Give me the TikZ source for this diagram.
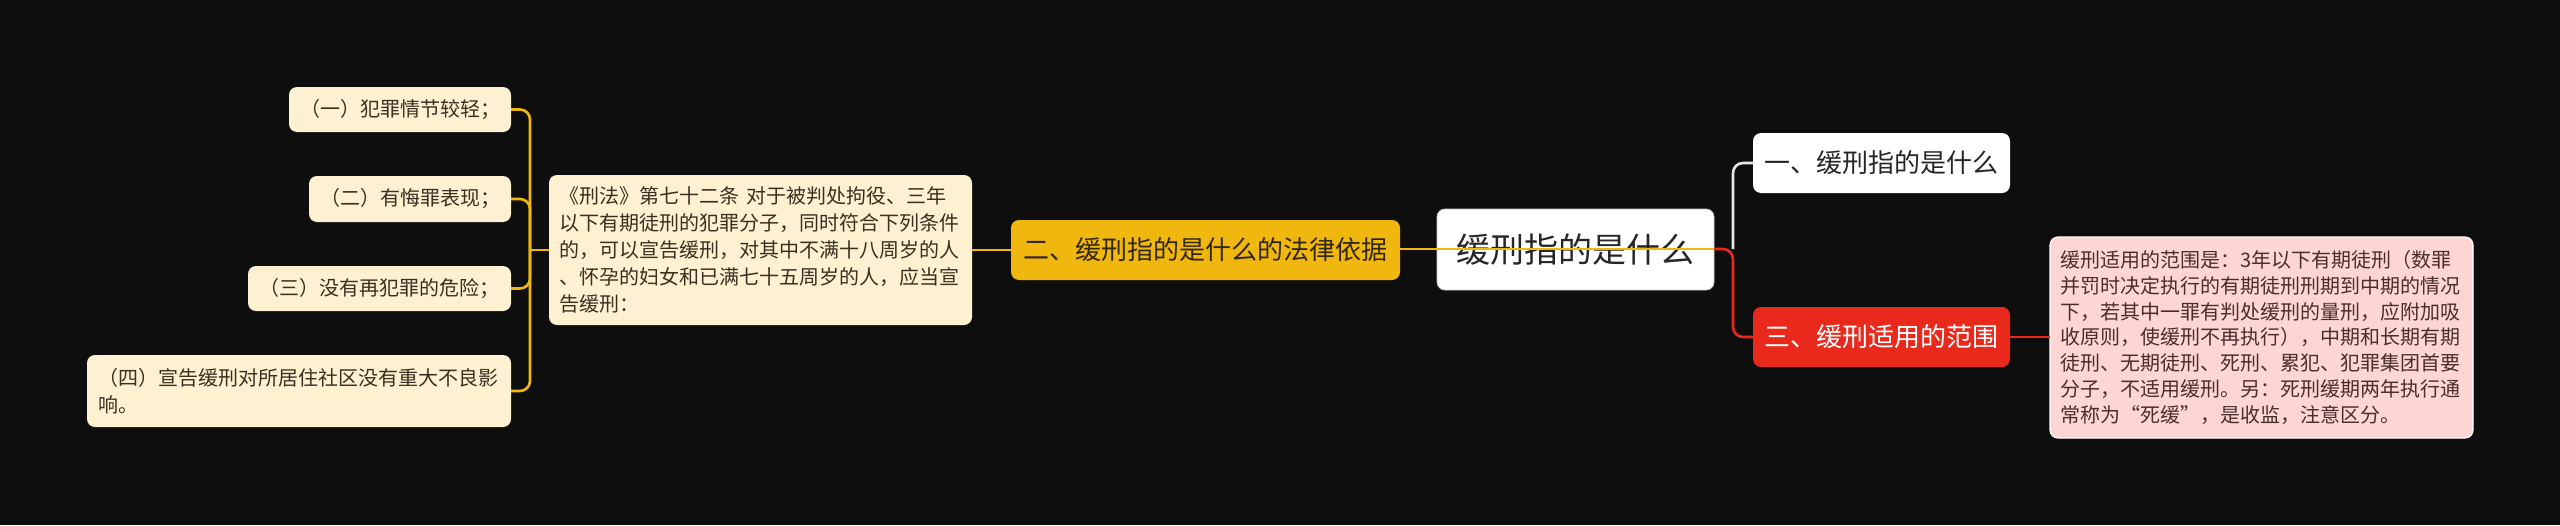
\documentclass[tikz,border=0pt]{standalone}
\usepackage{fontspec}
\newfontfamily\cjk{Noto Sans CJK SC}
\definecolor{bgc}{HTML}{0E0E0E}
\definecolor{cream}{HTML}{FDF1D2}
\definecolor{creamtxt}{HTML}{3A3020}
\definecolor{gold}{HTML}{F0B70E}
\definecolor{goldtxt}{HTML}{33270A}
\definecolor{redc}{HTML}{E8291B}
\definecolor{pinkc}{HTML}{FDD6D3}
\definecolor{pinktxt}{HTML}{4A2E2C}
\definecolor{graylink}{HTML}{E6E6E6}
\definecolor{roottxt}{HTML}{262626}
\tikzset{
  box/.style={rounded corners=8pt, inner sep=0pt, outer sep=0pt, font=\cjk, align=center},
  smallbox/.style={box, fill=cream, text=creamtxt, font=\cjk\fontsize{20}{27}\selectfont},
  midbox/.style={box, font=\cjk\fontsize{26}{30}\selectfont},
  link/.style={line width=2.6pt, rounded corners=10pt},
}
\begin{document}
\begin{tikzpicture}[x=1pt,y=-1pt]
\fill[bgc] (0,0) rectangle (2560,525);
\useasboundingbox (0,0) rectangle (2560,525);

% root and right side
\node[box, fill=white, draw=gray!40, line width=0.8pt, text=roottxt, font=\cjk\fontsize{34}{40}\selectfont,
      minimum width=277pt, minimum height=81pt] (root) at (1575.5,249.5) {缓刑指的是什么};
\node[midbox, fill=white, text=roottxt, minimum width=257pt, minimum height=60pt] (n1) at (1881.5,163) {一、缓刑指的是什么};
\node[midbox, fill=redc, text=white, minimum width=257pt, minimum height=60pt] (n3) at (1881.5,337) {三、缓刑适用的范围};
\node[box, fill=pinkc, draw=white, line width=1.2pt, text=pinktxt, font=\cjk\fontsize{20}{25.8}\selectfont,
      minimum width=423pt, minimum height=201pt, text width=402pt, align=left] (pink) at (2261.5,337.5)
  {缓刑适用的范围是：3年以下有期徒刑（数罪\\并罚时决定执行的有期徒刑刑期到中期的情况\\下，若其中一罪有判处缓刑的量刑，应附加吸\\收原则，使缓刑不再执行），中期和长期有期\\徒刑、无期徒刑、死刑、累犯、犯罪集团首要\\分子，不适用缓刑。另：死刑缓期两年执行通\\常称为“死缓”，是收监，注意区分。};

% left side
\node[midbox, fill=gold, text=goldtxt, minimum width=389pt, minimum height=60pt] (n2) at (1205.5,250) {二、缓刑指的是什么的法律依据};
\node[smallbox, minimum width=423pt, minimum height=150pt, text width=402pt, align=left] (law) at (760.5,250)
  {《刑法》第七十二条 对于被判处拘役、三年\\以下有期徒刑的犯罪分子，同时符合下列条件\\的，可以宣告缓刑，对其中不满十八周岁的人\\、怀孕的妇女和已满七十五周岁的人，应当宣\\告缓刑：};
\node[smallbox, minimum width=222pt, minimum height=45pt] (c1) at (400,109.5) {（一）犯罪情节较轻；};
\node[smallbox, minimum width=202pt, minimum height=46pt] (c2) at (410,199) {（二）有悔罪表现；};
\node[smallbox, minimum width=263pt, minimum height=45pt] (c3) at (379.5,288.5) {（三）没有再犯罪的危险；};
\node[smallbox, minimum width=424pt, minimum height=72pt, text width=402pt, align=left] (c4) at (299,391)
  {（四）宣告缓刑对所居住社区没有重大不良影\\响。};

% connectors
\coordinate (lj) at (530,250);
\coordinate (rj) at (1733,249);
\draw[link, gold] (law.west) -- (lj);
\draw[link, gold] (lj) |- (c1.east);
\draw[link, gold] (lj) |- (c2.east);
\draw[link, gold] (lj) |- (c3.east);
\draw[link, gold] (lj) |- (c4.east);
\draw[link, gold] (law.east) -- (n2.west);
\draw[link, graylink] (rj) |- (n1.west);
\draw[link, redc] (root.east |- rj) -- (rj) |- (n3.west);
\draw[link, redc] (n3.east) -- (pink.west |- n3.east);
\draw[link, gold] (n2.east |- rj) -- (root.east |- rj);
\end{tikzpicture}
\end{document}
